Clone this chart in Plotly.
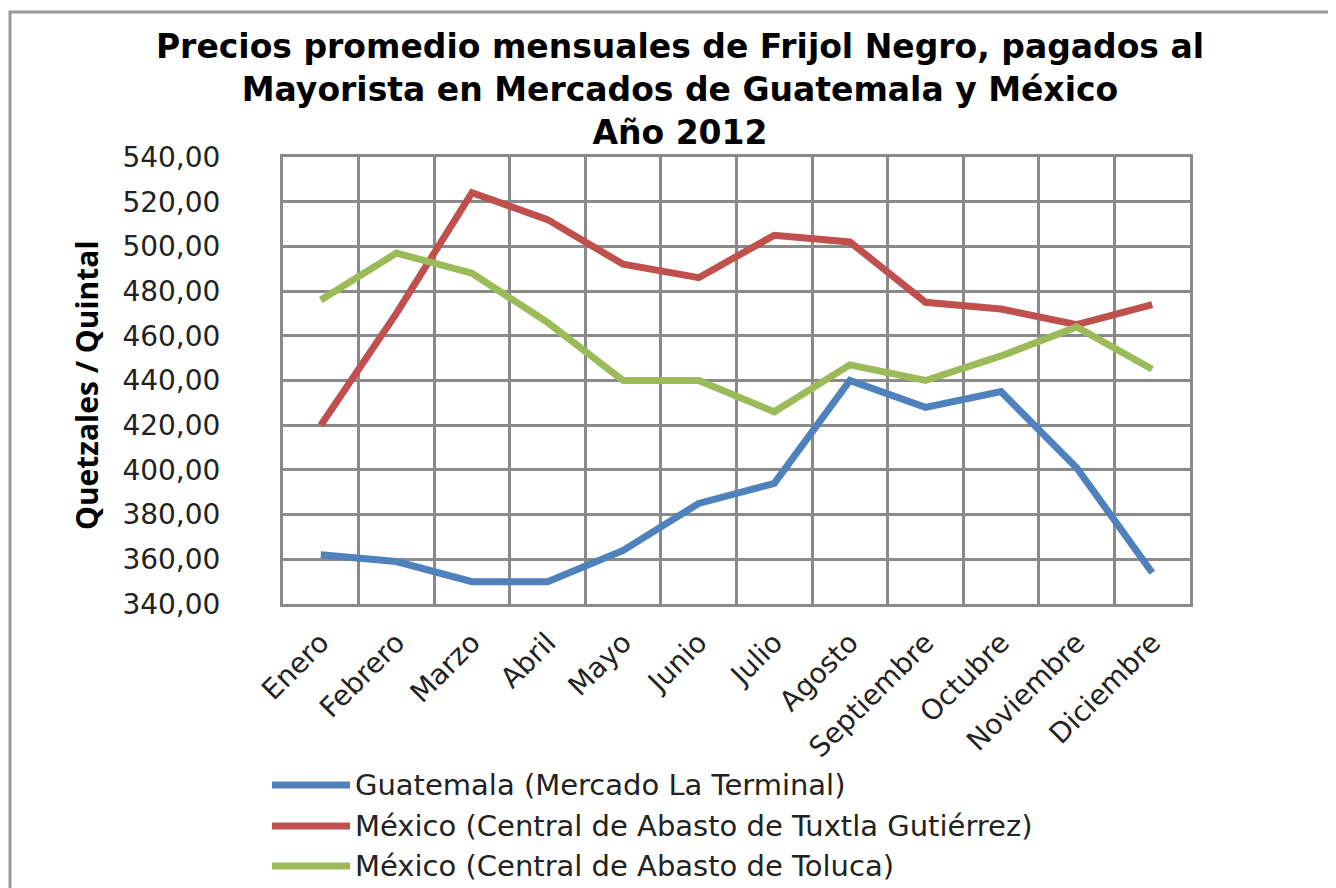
import plotly.graph_objects as go

meses = ["Enero", "Febrero", "Marzo", "Abril", "Mayo", "Junio", "Julio",
         "Agosto", "Septiembre", "Octubre", "Noviembre", "Diciembre"]

guatemala = [362, 359, 350, 350, 364, 385, 394, 440, 428, 435, 401, 354]
tuxtla = [420, 470, 524, 512, 492, 486, 505, 502, 475, 472, 465, 474]
toluca = [476, 497, 488, 466, 440, 440, 426, 447, 440, 451, 464, 445]

nombres = ["Guatemala (Mercado La Terminal)",
           "México (Central de Abasto de Tuxtla Gutiérrez)",
           "México (Central de Abasto de Toluca)"]
colores = ["#4F81BD", "#C0504D", "#9BBB59"]
series = [guatemala, tuxtla, toluca]

y_ticks = list(range(340, 541, 20))

fig = go.Figure()
for nombre, valores, color in zip(nombres, series, colores):
    fig.add_trace(go.Scatter(x=meses, y=valores, name=nombre, mode="lines",
                             line=dict(color=color, width=7), showlegend=False))

grid = "#8a8a8a"
OFF = 8  # page body margin
W, H = 1336 - OFF, 888 - OFF
L, T = 283 - OFF, 157 - OFF
R, B = W - (1190 - OFF), H - (604 - OFF)
PW, PH = W - L - R, H - T - B


def px(x):
    return (x - OFF - L) / PW


def py(y):
    return (H - B - (y - OFF)) / PH


fig.update_layout(
    width=W, height=H,
    margin=dict(l=L, r=R, t=T, b=B, autoexpand=False),
    paper_bgcolor="white", plot_bgcolor="white",
    separators=",.",
    title=dict(text="<b>Precios promedio mensuales de Frijol Negro, pagados al<br>"
                    "Mayorista en Mercados de Guatemala y México<br>Año 2012</b>",
               x=(680 - OFF) / W, xanchor="center", y=1 - 50 / H, yanchor="top",
               font=dict(family="DejaVu Sans", size=33, color="black")),
    xaxis=dict(type="category", tickson="boundaries", range=[-0.5, 11.5],
               showgrid=True, automargin=False,
               gridcolor=grid, gridwidth=3, showline=True, linecolor=grid,
               linewidth=3, mirror=True, ticks="", tickangle=-45,
               ticklabelstandoff=8,
               tickfont=dict(family="DejaVu Sans", size=28, color="#222")),
    yaxis=dict(range=[340, 540], tickvals=y_ticks, tickformat=".2f",
               automargin=False,
               showgrid=True, gridcolor=grid, gridwidth=3, showline=True,
               linecolor=grid, linewidth=3, mirror=True, ticks="",
               ticklabelstandoff=54, zeroline=False,
               tickfont=dict(family="DejaVu Sans", size=28, color="#222")),
)

# y axis title
fig.add_annotation(text="<b>Quetzales / Quintal</b>", xref="paper", yref="paper",
                   x=px(86), y=py(385), xanchor="center", yanchor="middle",
                   textangle=-90, showarrow=False,
                   font=dict(family="Open Sans", size=30, color="black"))

# outer chart border
fig.add_shape(type="rect", xref="paper", yref="paper",
              x0=px(OFF + 2), x1=px(1345), y0=py(900), y1=py(12),
              line=dict(color="#9a9a9a", width=3), layer="below")

# legend
leg_y = [785, 826, 866]
for nombre, color, yp in zip(nombres, colores, leg_y):
    yy = py(yp)
    fig.add_shape(type="line", xref="paper", yref="paper",
                  x0=px(272), x1=px(350), y0=yy, y1=yy,
                  line=dict(color=color, width=7))
    fig.add_annotation(text=nombre, xref="paper", yref="paper",
                       x=px(353), y=yy, xanchor="left", yanchor="middle",
                       showarrow=False,
                       font=dict(family="DejaVu Sans", size=29, color="#222"))

fig.write_html("out.html")
